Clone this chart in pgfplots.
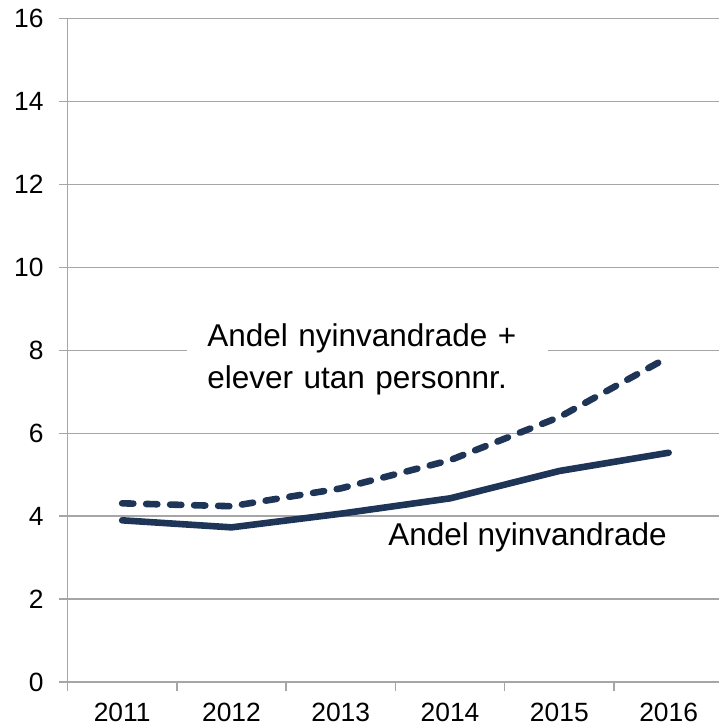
\documentclass[border=0pt]{standalone}
\usepackage{fontspec}
\setmainfont{Liberation Sans}
\usepackage{pgfplots}
\pgfplotsset{compat=1.18}
\definecolor{navy}{HTML}{1F3557}
\definecolor{gridgray}{HTML}{A6A6A6}

\begin{document}
\begin{tikzpicture}
\path[use as bounding box] (-33.75bp,-21.5bp) rectangle (325.75bp,341bp);
\begin{axis}[
  at={(0,0)}, anchor=south west,
  scale only axis,
  width=327.9bp, height=331.65bp,
  xmin=-0.5, xmax=5.5,
  ymin=0, ymax=16,
  axis lines*=left,
  axis line style={draw=gridgray, line width=0.75bp, -},
  xtick={0,1,2,3,4,5},
  xticklabels={2011,2012,2013,2014,2015,2016},
  minor xtick={-0.5,0.5,1.5,2.5,3.5,4.5,5.5},
  ytick={0,2,...,16},
  tick align=outside,
  major tick length=4bp,
  minor tick length=4.5bp,
  major x tick style={draw=none},
  minor x tick style={draw=gridgray, line width=0.75bp},
  major y tick style={draw=gridgray, line width=0.75bp},
  ymajorgrids=true,
  grid style={draw=gridgray, line width=0.75bp},
  /pgf/number format/assume math mode=true,
  tick label style={font=\fontsize{13.2bp}{15bp}\selectfont, text=black},
  yticklabel style={xshift=-4.5bp},
  xticklabel style={yshift=-3bp},
  clip=false,
]
\addplot[navy, line width=3.3bp, line cap=round, line join=round] coordinates {
  (0,3.90) (1,3.73) (2,4.06) (3,4.43) (4,5.09) (5,5.53)
};
\addplot[navy, line width=3.3bp, line cap=round, line join=round, dash pattern=on 5.6bp off 6.4bp] coordinates {
  (0,4.31) (1,4.24) (2,4.67) (3,5.35) (4,6.39) (5,7.84)
};
\node[fill=white, anchor=west, align=left, text width=160.5bp, inner xsep=10bp, inner ysep=2bp,
  font=\fontsize{15.75bp}{21bp}\selectfont] at (axis cs:0.593,7.79)
  {Andel nyinvandrade +\\elever utan personnr.};
\node[anchor=west, inner sep=0pt, font=\fontsize{15.75bp}{21bp}\selectfont]
  at (axis cs:2.432,3.50) {Andel nyinvandrade};
\end{axis}
\end{tikzpicture}
\end{document}
